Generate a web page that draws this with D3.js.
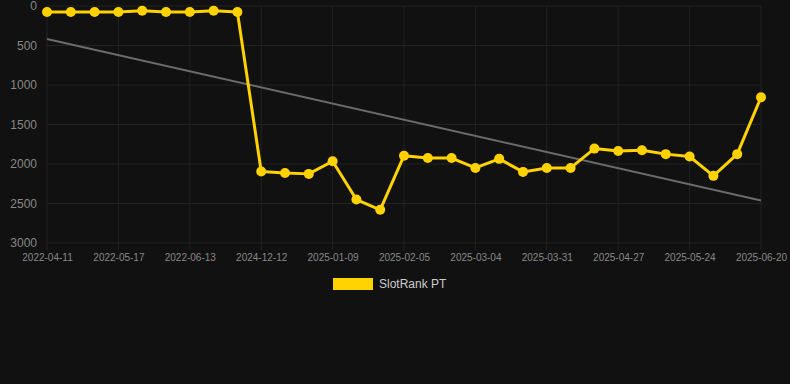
<!DOCTYPE html>
<html>
<head>
<meta charset="utf-8">
<script src="https://cdn.jsdelivr.net/npm/d3@7"></script>
<style>
	html, body {margin: 0; padding: 0; background: #111111;}
	svg {display: block;}
	.tick text {font-family: Arial, "Liberation Sans", sans-serif; fill: #888888;}
</style>
</head>
<body>
<div id="chart"></div>
<script>
// data
var dates = ["2022-04-11","2022-04-23","2022-05-05","2022-05-17","2022-05-26","2022-06-04","2022-06-13","2022-06-22","2022-07-01",
	"2024-12-12","2024-12-21","2024-12-30","2025-01-09","2025-01-18","2025-01-27","2025-02-05","2025-02-14","2025-02-23",
	"2025-03-04","2025-03-13","2025-03-22","2025-03-31","2025-04-09","2025-04-18","2025-04-27","2025-05-06","2025-05-15",
	"2025-05-24","2025-06-02","2025-06-11","2025-06-20"];
var ranks = [75, 75, 75, 75, 60, 75, 75, 60, 75,
	2095, 2115, 2125, 1965, 2450, 2580, 1895, 1925, 1925,
	2050, 1935, 2100, 2050, 2050, 1805, 1835, 1825, 1875,
	1905, 2150, 1875, 1155];
var trendValues = [417, 2463]; // trend line at first and last date
var yTicks = [0, 500, 1000, 1500, 2000, 2500, 3000];
var seriesName = "SlotRank PT";

var width = 790, height = 384;
var margin = {top: 6, right: 29, bottom: 141, left: 47};
var plotW = width - margin.left - margin.right,
	plotH = height - margin.top - margin.bottom;

var svg = d3.select("#chart")
	.append("svg")
	.attr("width", width)
	.attr("height", height);

var g = svg.append("g")
	.attr("transform", "translate(" + margin.left + "," + margin.top + ")");

var xscale = d3.scalePoint()
	.domain(dates)
	.range([0, plotW]);

var yscale = d3.scaleLinear()
	.domain([0, 3000])
	.range([0, plotH]);

// horizontal grid
g.append("g")
	.selectAll("line")
	.data(yTicks)
	.enter()
	.append("line")
		.attr("x1", 0)
		.attr("x2", plotW)
		.attr("y1", function(d){ return yscale(d); })
		.attr("y2", function(d){ return yscale(d); })
		.attr("stroke", "#222222")
		.attr("stroke-width", 1);

// vertical grid on the shown labels only
var shownDates = dates.filter(function(d, i){ return i % 3 == 0; });
g.append("g")
	.selectAll("line")
	.data(shownDates)
	.enter()
	.append("line")
		.attr("x1", function(d){ return xscale(d); })
		.attr("x2", function(d){ return xscale(d); })
		.attr("y1", 0)
		.attr("y2", plotH + 7)
		.attr("stroke", "#222222")
		.attr("stroke-width", 1);

var xAxis = d3.axisBottom()
	.scale(xscale)
	.tickValues(shownDates)
	.tickSize(0)
	.tickPadding(11);

var yAxis = d3.axisLeft()
	.scale(yscale)
	.tickValues(yTicks)
	.tickFormat(d3.format("d"))
	.tickSize(0)
	.tickPadding(10);

g.append("g")
	.attr("transform", "translate(0," + plotH + ")")
	.call(xAxis)
	.call(function(a){ a.select(".domain").remove(); })
	.selectAll("text")
		.style("font-size", "10px");

g.append("g")
	.call(yAxis)
	.call(function(a){ a.select(".domain").remove(); })
	.selectAll("text")
		.style("font-size", "12px");

// trend line
g.append("line")
	.attr("x1", xscale(dates[0]))
	.attr("x2", xscale(dates[dates.length - 1]))
	.attr("y1", yscale(trendValues[0]))
	.attr("y2", yscale(trendValues[1]))
	.attr("stroke", "#6b6b6b")
	.attr("stroke-width", 2);

var line = d3.line()
	.x(function(d, i){ return xscale(dates[i]); })
	.y(function(d){ return yscale(d); });

g.append("path")
	.datum(ranks)
	.attr("d", line)
	.attr("fill", "none")
	.attr("stroke", "#ffd200")
	.attr("stroke-width", 3)
	.attr("stroke-linejoin", "round");

g.selectAll(".dot")
	.data(ranks)
	.enter()
	.append("circle")
		.attr("class", "dot")
		.attr("cx", function(d, i){ return xscale(dates[i]); })
		.attr("cy", function(d){ return yscale(d); })
		.attr("r", 5)
		.attr("fill", "#ffd200");

// legend
var legend = svg.append("g")
	.attr("transform", "translate(333,278)");

legend.append("rect")
	.attr("width", 40)
	.attr("height", 12)
	.attr("fill", "#ffd200");

legend.append("text")
	.attr("x", 46)
	.attr("y", 6)
	.attr("dy", "0.35em")
	.style("font-family", "Arial, 'Liberation Sans', sans-serif")
	.style("font-size", "12px")
	.attr("fill", "#cccccc")
	.text(seriesName);
</script>
</body>
</html>
